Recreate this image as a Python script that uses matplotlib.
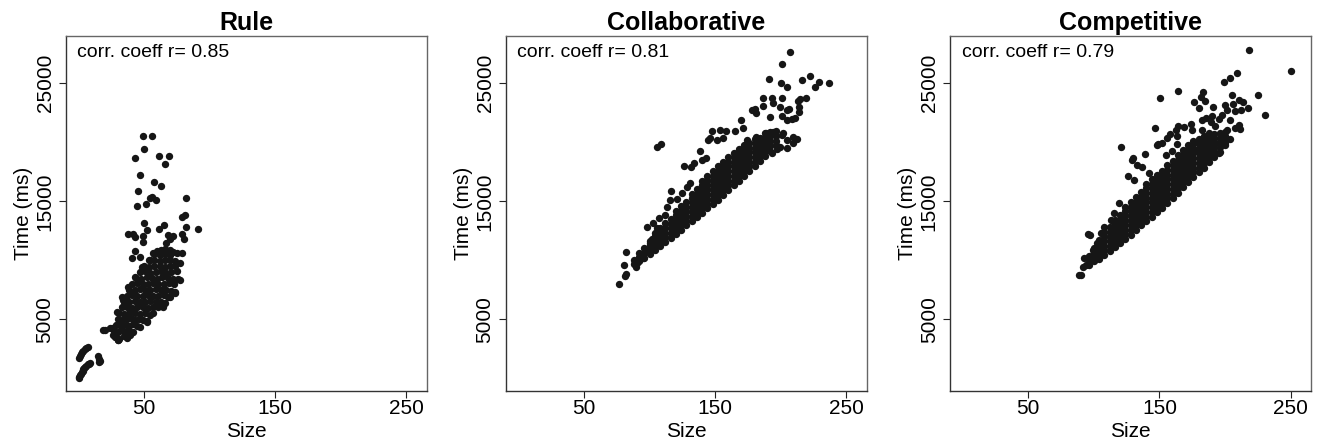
import matplotlib.pyplot as plt

plt.rcParams['font.family'] = ['Liberation Sans', 'DejaVu Sans']

TITLES = ['Rule', 'Collaborative', 'Competitive']
CORR = [0.85, 0.81, 0.79]
X_TICKS = [50, 150, 250]
Y_TICKS = [5000, 15000, 25000]

# Rule: (size, time ms)
rule_low = [(0.3, 50), (0.8, 150), (1.3, 250), (1.9, 380), (2.6, 500), (3.2, 620), (3.9, 760),
            (4.6, 870), (5.4, 980), (6.2, 1080), (7.1, 1170), (8.1, 1240), (9.2, 1300),
            (0.6, 1720), (1.1, 1900), (1.9, 2050), (2.9, 2200), (3.9, 2330), (4.9, 2460),
            (6.0, 2580), (7.1, 2680), (15.1, 1850), (15.6, 1640), (16.2, 1450), (16.0, 1340)]
rule_core = [(28, 3500), (31, 3300), (34.5, 3600), (37, 3450), (30.5, 3250),
             (27, 4050), (30, 3950), (33, 4100), (36, 3900), (39, 4000), (42, 3950),
             (29, 4500), (32.5, 4450), (36, 4550), (39, 4400), (42, 4600), (45, 4450),
             (30, 5050), (33.5, 4950), (37, 5000), (40, 5100), (43, 4950), (46, 5050), (49, 4900), (52, 4850),
             (31, 5500), (35, 5450), (39, 5550), (43, 5500), (47, 5450), (51, 5550), (55, 5400),
             (33, 6000), (37, 6050), (41, 5950), (45, 6000), (49, 6050), (53, 5950), (57, 6000), (61, 6050),
             (35, 6500), (39, 6450), (43, 6550), (47, 6500), (51, 6450), (55, 6550), (59, 6500), (63, 6450),
             (37, 7000), (41, 7050), (45, 6950), (49, 7000), (53, 7050), (57, 6950), (61, 7000), (65, 7050), (68, 6900),
             (39, 7500), (43, 7450), (47, 7550), (51, 7500), (55, 7450), (59, 7550), (63, 7500), (67, 7450), (71, 7400),
             (41, 8000), (45, 8050), (49, 7950), (53, 8000), (57, 8050), (61, 7950), (65, 8000), (69, 8050), (73, 7950),
             (44, 8500), (48, 8450), (52, 8550), (56, 8500), (60, 8450), (64, 8550), (68, 8500), (72, 8450), (76, 8400),
             (47, 9000), (51, 9050), (55, 8950), (59, 9000), (63, 9050), (67, 8950), (71, 9000), (75, 9050),
             (50, 9500), (54, 9450), (58, 9550), (62, 9500), (66, 9450), (70, 9550), (74, 9500),
             (54, 10000), (58, 10050), (62, 9950), (66, 10000), (70, 10050), (74, 9950),
             (58, 10500), (62, 10450), (66, 10550), (70, 10450),
             (60, 10800), (63, 10900), (66, 10950), (70, 10850), (72, 10700), (75, 10600)]
rule_outer = [(49, 20500), (56.3, 20500), (50.2, 19400), (43.1, 18650), (61.2, 18850), (69.2, 18800),
              (66.2, 18200), (47.2, 17250), (57.4, 16600), (63.2, 16300), (45.2, 15850), (55.9, 15400),
              (59.1, 15100), (54.3, 15300), (44.4, 14600), (51.5, 14750), (82.2, 15300), (81, 13850),
              (79.2, 13650), (82.2, 12850), (91.1, 12650), (50.2, 13150), (52.5, 12550), (61.2, 12650),
              (65.2, 13000), (38, 12200), (41.4, 12200), (43.4, 11950), (49.2, 12100), (49, 11550),
              (68.5, 12150), (72.3, 12050), (69.8, 11800), (67.2, 11450), (79.2, 12200), (80.5, 11800),
              (42.9, 10750), (46.9, 10300), (40.9, 10200),
              (77.4, 8330), (73.6, 7200), (66, 6350), (63.8, 7480), (77.4, 9750), (78.7, 10600),
              (73.6, 7340), (69.8, 6915), (64.7, 6070), (57.1, 5510), (52, 4800), (47, 4375),
              (39.3, 3670), (30.4, 3245), (29.2, 5640), (34.2, 6640), (38, 7760), (43.1, 8610),
              (48.2, 9460), (54.6, 10030), (57.1, 10600), (20.3, 4090), (25.4, 4235), (26.6, 3670),
              (31.7, 4520), (33, 6915), (19, 4090), (24.1, 4240)]

# Collaborative
collab_core = [(88, 9650), (88, 10050), (92, 9900), (92, 10300), (92, 10650),
               (96, 10200), (96, 10600), (96, 11000),
               (100, 10500), (100, 10900), (100, 11300), (100, 11650),
               (104, 10850), (104, 11250), (104, 11650), (104, 12050),
               (108, 11200), (108, 11600), (108, 12000), (108, 12400), (108, 12750),
               (112, 11550), (112, 11950), (112, 12350), (112, 12750), (112, 13150),
               (116, 11900), (116, 12300), (116, 12700), (116, 13100), (116, 13500),
               (120, 12250), (120, 12650), (120, 13050), (120, 13450), (120, 13850), (120, 14200),
               (124, 12600), (124, 13000), (124, 13400), (124, 13800), (124, 14200), (124, 14600),
               (128, 12950), (128, 13350), (128, 13750), (128, 14150), (128, 14550), (128, 14950),
               (132, 13300), (132, 13700), (132, 14100), (132, 14500), (132, 14900), (132, 15300), (132, 15650),
               (136, 13650), (136, 14050), (136, 14450), (136, 14850), (136, 15250), (136, 15650), (136, 16050),
               (140, 14000), (140, 14400), (140, 14800), (140, 15200), (140, 15600), (140, 16000), (140, 16400), (140, 16750),
               (144, 14400), (144, 14800), (144, 15200), (144, 15600), (144, 16000), (144, 16400), (144, 16800), (144, 17150),
               (148, 14750), (148, 15150), (148, 15550), (148, 15950), (148, 16350), (148, 16750), (148, 17150), (148, 17550),
               (152, 15150), (152, 15550), (152, 15950), (152, 16350), (152, 16750), (152, 17150), (152, 17550), (152, 17950),
               (156, 15550), (156, 15950), (156, 16350), (156, 16750), (156, 17150), (156, 17550), (156, 17950), (156, 18350),
               (160, 15950), (160, 16350), (160, 16750), (160, 17150), (160, 17550), (160, 17950), (160, 18350), (160, 18750),
               (164, 16350), (164, 16750), (164, 17150), (164, 17550), (164, 17950), (164, 18350), (164, 18750), (164, 19100),
               (168, 16750), (168, 17150), (168, 17550), (168, 17950), (168, 18350), (168, 18750), (168, 19150), (168, 19450),
               (172, 17150), (172, 17550), (172, 17950), (172, 18350), (172, 18750), (172, 19150), (172, 19500), (172, 19800),
               (176, 17550), (176, 17950), (176, 18350), (176, 18750), (176, 19150), (176, 19550), (176, 19900),
               (180, 17950), (180, 18350), (180, 18750), (180, 19150), (180, 19550), (180, 19950), (180, 20250),
               (184, 18400), (184, 18800), (184, 19200), (184, 19600), (184, 20000), (184, 20400),
               (188, 18850), (188, 19250), (188, 19650), (188, 20050), (188, 20450), (188, 20800),
               (192, 19300), (192, 19700), (192, 20100), (192, 20500), (192, 20900),
               (196, 19750), (196, 20150), (196, 20550), (196, 20950)]
collab_outer = [(206.9, 27630), (200.8, 26640), (190.9, 25390), (200, 25050), (205.1, 24690), (216, 25280),
                (222.1, 25640), (228.9, 25090), (237.1, 25050), (225.9, 24710), (193.2, 23730), (186.1, 23730),
                (201.3, 23780), (213, 23530), (215, 23650), (219.6, 23730), (177.7, 22740), (180.2, 22800),
                (186.6, 23080), (194.2, 23300), (199.3, 22970), (205.9, 22800), (214, 22970), (214, 22570),
                (169.8, 21890), (181.5, 22460), (191.7, 22170), (200.6, 22230), (204.4, 21890), (208.9, 21950),
                (210.7, 22090), (147.3, 20960), (153.6, 21040), (158.1, 20960), (165, 20960), (171.3, 21190),
                (105.4, 19630), (108.4, 19830), (146, 20340), (151.1, 20200), (155.6, 20340), (193, 19130),
                (199.3, 19630), (201.8, 20760), (204.4, 22740), (76.9, 7990), (81.2, 8670), (82, 8840),
                (80.7, 9600), (82, 10700), (89.6, 9410), (90.6, 9750), (92.1, 10030), (94.7, 10170),
                (96.5, 10870), (100.3, 11440), (101.6, 11780), (104.1, 12290), (105.8, 12710), (97.8, 12850),
                (102.8, 13140), (107.4, 13560), (111.7, 13840), (113, 14540), (115.5, 15110), (116.1, 15900),
                (121.1, 15170), (124.4, 15680), (128.7, 16190), (130.7, 16530), (126.2, 17990), (131.3, 17880),
                (133.8, 18270), (138.3, 19290), (143.4, 18640), (139.6, 18500), (144.7, 20200),
                (173.9, 20200), (181.5, 20480), (189.1, 20760), (194.2, 20900), (200.6, 20620), (204.4, 20200),
                (209.4, 20480), (205, 19500), (209, 19900), (212, 20300), (197, 19400)]

# Competitive
comp_core = [(96, 9600), (96, 10000), (96, 10400),
             (100, 9900), (100, 10300), (100, 10700), (100, 11050),
             (104, 10150), (104, 10550), (104, 10950), (104, 11350), (104, 11700),
             (108, 10450), (108, 10850), (108, 11250), (108, 11650), (108, 12050), (108, 12400),
             (112, 10800), (112, 11200), (112, 11600), (112, 12000), (112, 12400), (112, 12800),
             (116, 11100), (116, 11500), (116, 11900), (116, 12300), (116, 12700), (116, 13100), (116, 13450),
             (120, 11450), (120, 11850), (120, 12250), (120, 12650), (120, 13050), (120, 13450), (120, 13850),
             (124, 11800), (124, 12200), (124, 12600), (124, 13000), (124, 13400), (124, 13800), (124, 14200), (124, 14550),
             (128, 12150), (128, 12550), (128, 12950), (128, 13350), (128, 13750), (128, 14150), (128, 14550), (128, 14950),
             (132, 12550), (132, 12950), (132, 13350), (132, 13750), (132, 14150), (132, 14550), (132, 14950), (132, 15350),
             (136, 12950), (136, 13350), (136, 13750), (136, 14150), (136, 14550), (136, 14950), (136, 15350), (136, 15750),
             (140, 13300), (140, 13700), (140, 14100), (140, 14500), (140, 14900), (140, 15300), (140, 15700), (140, 16100), (140, 16450),
             (144, 13700), (144, 14100), (144, 14500), (144, 14900), (144, 15300), (144, 15700), (144, 16100), (144, 16500), (144, 16850),
             (148, 14050), (148, 14450), (148, 14850), (148, 15250), (148, 15650), (148, 16050), (148, 16450), (148, 16850), (148, 17250),
             (152, 14400), (152, 14800), (152, 15200), (152, 15600), (152, 16000), (152, 16400), (152, 16800), (152, 17200), (152, 17600),
             (156, 14850), (156, 15250), (156, 15650), (156, 16050), (156, 16450), (156, 16850), (156, 17250), (156, 17650), (156, 18050),
             (160, 15250), (160, 15650), (160, 16050), (160, 16450), (160, 16850), (160, 17250), (160, 17650), (160, 18050), (160, 18450),
             (164, 15700), (164, 16100), (164, 16500), (164, 16900), (164, 17300), (164, 17700), (164, 18100), (164, 18500), (164, 18900),
             (168, 16200), (168, 16600), (168, 17000), (168, 17400), (168, 17800), (168, 18200), (168, 18600), (168, 19000), (168, 19350),
             (172, 16650), (172, 17050), (172, 17450), (172, 17850), (172, 18250), (172, 18650), (172, 19050), (172, 19450), (172, 19800),
             (176, 17050), (176, 17450), (176, 17850), (176, 18250), (176, 18650), (176, 19050), (176, 19450), (176, 19850), (176, 20150),
             (180, 17450), (180, 17850), (180, 18250), (180, 18650), (180, 19050), (180, 19450), (180, 19850), (180, 20250),
             (184, 17850), (184, 18250), (184, 18650), (184, 19050), (184, 19450), (184, 19850), (184, 20250), (184, 20550),
             (188, 18300), (188, 18700), (188, 19100), (188, 19500), (188, 19900), (188, 20300), (188, 20650),
             (192, 18750), (192, 19150), (192, 19550), (192, 19950), (192, 20350), (192, 20700),
             (196, 19200), (196, 19600), (196, 20000), (196, 20400), (196, 20800),
             (200, 19750), (200, 20150), (200, 20550), (200, 20900)]
comp_outer = [(218.3, 27840), (250.2, 26060), (199, 25120), (204.1, 25430), (209.5, 25830), (225.1, 23980),
              (230.4, 22290), (164.3, 24380), (150.7, 23760), (183.1, 24240), (181.6, 23850), (176.5, 23390),
              (184.4, 23470), (180.1, 22880), (191.2, 23000), (200.3, 23170), (205.4, 24040), (206.4, 23280),
              (210.4, 23560), (213.5, 23390), (217.3, 22880), (212.5, 22770), (207.9, 22630), (201.6, 22770),
              (197.8, 22340), (182.6, 21920), (185.2, 22060), (190.2, 22260), (195.3, 21980), (204.1, 21860),
              (210.4, 21500), (201.6, 21070), (208, 21220), (211.7, 21130), (192.7, 21350), (189, 21690),
              (173.8, 21580), (164.4, 21410), (168.7, 21300), (162.4, 21070), (157.8, 20730), (146.7, 21180),
              (155.5, 20370), (151.7, 19940), (148.4, 19800), (163.6, 20560), (175, 21070), (182.6, 21070),
              (120.8, 19600), (130, 18690), (138.8, 18970), (129.4, 18520), (133.2, 18100), (137, 17900),
              (142.1, 17400), (126.4, 17170), (130.7, 16830), (149.2, 19880), (154.8, 18950), (159.8, 19230),
              (163.6, 19880), (119.3, 14850), (115.5, 14000), (113, 13430), (107.9, 12860), (105.4, 12300),
              (95.3, 12220), (97.5, 12150), (102.8, 11450), (99.1, 10880), (92.7, 10180), (94, 9610),
              (91.5, 9470), (88.4, 8760), (90.2, 8760), (185.2, 20220), (192.7, 19940), (178, 19370),
              (187.7, 20810), (195.3, 19090), (200.3, 19940), (204, 20300)]

panels = [rule_low + rule_core + rule_outer, collab_core + collab_outer, comp_core + comp_outer]

fig = plt.figure(figsize=(13.17, 4.41), dpi=100)
lefts = [0.0499, 0.384, 0.7213]

for i, pts in enumerate(panels):
    ax = fig.add_axes([lefts[i], 0.1134, 0.2741, 0.805])
    xs = [p[0] for p in pts]
    ys = [p[1] for p in pts]
    ax.scatter(xs, ys, s=28, color='#161616', linewidths=0)
    ax.set_xlim(-9.6, 265.5)
    ax.set_ylim(-1076, 29008)
    ax.set_xticks(X_TICKS)
    ax.set_yticks(Y_TICKS)
    ax.set_yticklabels([str(t) for t in Y_TICKS], rotation=90, va='center')
    ax.tick_params(direction='out', length=5, width=0.8, labelsize=15, color='#222222')
    ax.tick_params(axis='x', pad=1)
    ax.tick_params(axis='y', pad=3)
    for side in ['top', 'right']:
        ax.spines[side].set_color('#666666')
    for side in ['left', 'bottom']:
        ax.spines[side].set_color('#333333')
    for sp in ax.spines.values():
        sp.set_linewidth(1.0)
    ax.set_xlabel('Size', fontsize=15, labelpad=3)
    ax.set_ylabel('Time (ms)', fontsize=15, labelpad=2)
    ax.set_title(TITLES[i], fontsize=18, fontweight='bold', pad=4)
    ax.text(0.032, 0.954, f'corr. coeff r= {CORR[i]}', transform=ax.transAxes,
            fontsize=14, ha='left', va='center')

fig.savefig('out.png', dpi=100)
